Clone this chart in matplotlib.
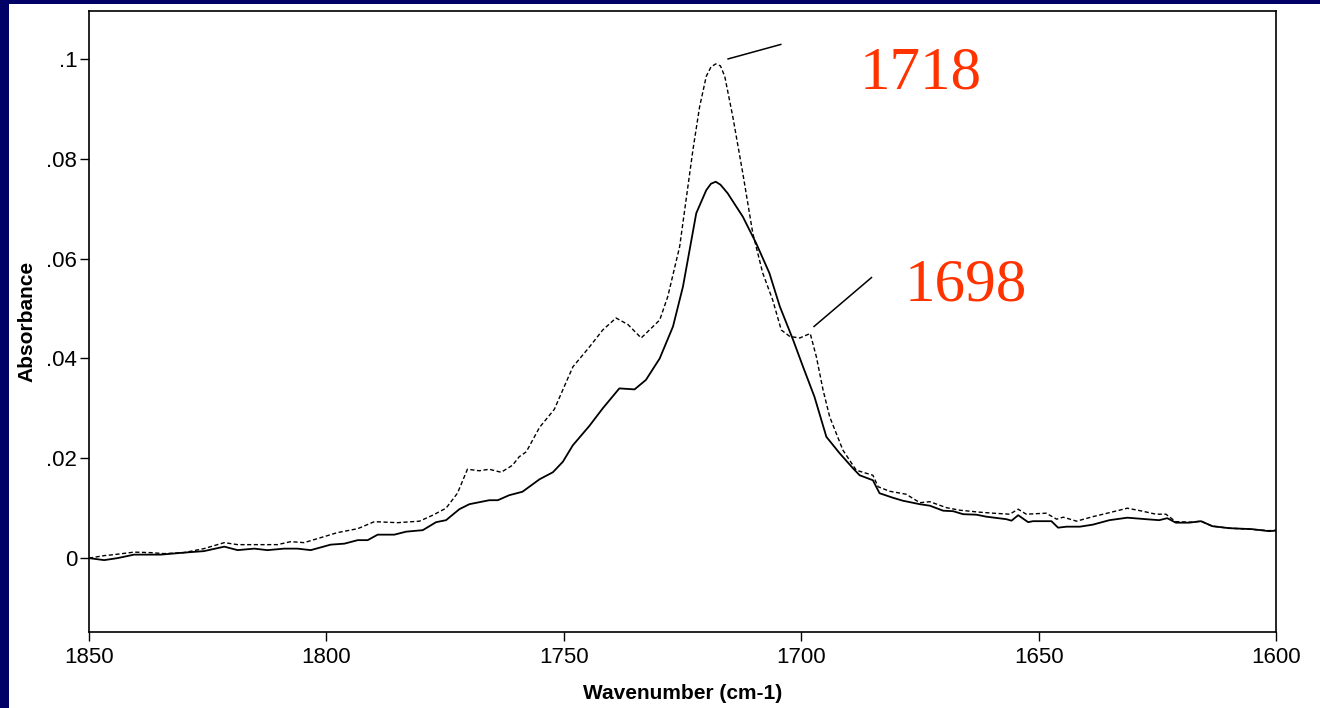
import matplotlib
matplotlib.use("Agg")
import matplotlib.pyplot as plt
from matplotlib.patches import Rectangle

# wavenumber (cm-1) and absorbance
wn_solid = [1850, 1846.8, 1844, 1840.5, 1834.9, 1830, 1825.8, 1821.5, 1818.7, 1815.2,
            1812.4, 1808.9, 1806.1, 1803.3, 1799.1, 1796.2, 1793.4, 1791.3, 1789.2, 1785.7,
            1783.2, 1779.7, 1776.9, 1774.8, 1772, 1769.9, 1765.7, 1763.9, 1761.5, 1758.7,
            1755.1, 1752.3, 1750.2, 1748.1, 1744.6, 1741.8, 1738.3, 1735.1, 1732.7, 1729.8,
            1727, 1724.9, 1722.1, 1720, 1719, 1718, 1717, 1715.5, 1712.3, 1709.5, 1706.7, 1704.5,
            1701.7, 1699.6, 1697.2, 1694.7, 1691.9, 1689.1, 1687.7, 1684.9, 1683.5, 1680.7,
            1678.6, 1675, 1672.9, 1670.1, 1668, 1665.9, 1663.1, 1661, 1656.8, 1655.7,
            1654.3, 1652.2, 1651.2, 1647.3, 1645.9, 1644.1, 1641.3, 1638.6, 1635.1, 1631.3,
            1627.4, 1624.6, 1622.9, 1621.1, 1618.3, 1615.8, 1613.4, 1609.9, 1605, 1601.5, 1600]
abs_solid = [0.0, -0.0004, 0.0, 0.0007, 0.0007, 0.0011, 0.0014, 0.0023, 0.0016, 0.0019,
             0.0016, 0.0019, 0.0019, 0.0016, 0.0027, 0.0029, 0.0036, 0.0036, 0.0047, 0.0047,
             0.0053, 0.0056, 0.0072, 0.0076, 0.0098, 0.0108, 0.0116, 0.0116, 0.0126, 0.0133,
             0.0158, 0.0172, 0.0193, 0.0226, 0.0265, 0.0300, 0.0340, 0.0338, 0.0357, 0.0400,
             0.0464, 0.0544, 0.0691, 0.0737, 0.0750, 0.0754, 0.0748, 0.0731, 0.0684, 0.0631, 0.0571, 0.0504,
             0.0437, 0.0383, 0.0323, 0.0243, 0.0210, 0.0180, 0.0166, 0.0156, 0.0130, 0.0121,
             0.0115, 0.0108, 0.0105, 0.0095, 0.0094, 0.0088, 0.0087, 0.0083, 0.0078, 0.0075,
             0.0086, 0.0072, 0.0074, 0.0074, 0.0061, 0.0063, 0.0063, 0.0067, 0.0076, 0.0081,
             0.0078, 0.0076, 0.0080, 0.0071, 0.0071, 0.0074, 0.0064, 0.0060, 0.0058, 0.0054, 0.0055]

wn_dash = [1850, 1846.8, 1844.7, 1840.5, 1837, 1834.2, 1830, 1825.8, 1821.5, 1818.7,
           1813.1, 1810.3, 1807.5, 1804.7, 1801.9, 1797.7, 1793.4, 1789.9, 1785, 1780.4,
           1777.6, 1774.8, 1772.4, 1770.3, 1767.8, 1765.7, 1763.2, 1760.8, 1759.4, 1757.9,
           1755.1, 1752, 1748.1, 1744.6, 1741.8, 1739, 1736.5, 1733.7, 1729.8, 1728.1,
           1725.6, 1722.8, 1721.4, 1720, 1719, 1718, 1717, 1716.1, 1714.4, 1712.3, 1710.2, 1708.1,
           1706, 1704.2, 1702.4, 1700.3, 1698.1, 1696.8, 1695.4, 1694, 1691.2, 1688.4,
           1684.9, 1683.8, 1681.4, 1677.9, 1675, 1672.9, 1669.4, 1666.6, 1662.4, 1659.6,
           1656.1, 1654.3, 1652.6, 1648.4, 1646.2, 1644.8, 1642, 1638.6, 1635.1, 1631.3,
           1628.1, 1625.3, 1623.2, 1621.1, 1617.6, 1615.8, 1613.4, 1609.9, 1605.7, 1601.5, 1600]
abs_dash = [0.0, 0.0005, 0.0007, 0.0012, 0.0011, 0.0009, 0.0011, 0.0019, 0.0031, 0.0027,
            0.0027, 0.0027, 0.0033, 0.0031, 0.0039, 0.0051, 0.0059, 0.0073, 0.0071, 0.0074,
            0.0086, 0.0100, 0.0130, 0.0178, 0.0175, 0.0178, 0.0172, 0.0186, 0.0203, 0.0213,
            0.0262, 0.0298, 0.0383, 0.0423, 0.0457, 0.0481, 0.0468, 0.0441, 0.0477, 0.0524,
            0.0624, 0.0818, 0.0904, 0.0965, 0.0984, 0.0990, 0.0986, 0.0965, 0.0884, 0.0771, 0.0651, 0.0571,
            0.0517, 0.0457, 0.0444, 0.0441, 0.0450, 0.0403, 0.0337, 0.0283, 0.0216, 0.0176,
            0.0166, 0.0143, 0.0134, 0.0128, 0.0111, 0.0113, 0.0101, 0.0096, 0.0092, 0.0090,
            0.0088, 0.0098, 0.0088, 0.0090, 0.0078, 0.0082, 0.0074, 0.0083, 0.0091, 0.0100,
            0.0094, 0.0088, 0.0088, 0.0073, 0.0072, 0.0074, 0.0064, 0.0060, 0.0058, 0.0055, 0.0056]

x_ticks = [1850, 1800, 1750, 1700, 1650, 1600]
y_ticks = [0, 0.02, 0.04, 0.06, 0.08, 0.1]
y_tick_labels = ["0", ".02", ".04", ".06", ".08", ".1"]

# peak labels: text, line start (x, y), line end (x, y)
peak_labels = ["1718", "1698"]
peak_line_start = [(1715.4, 0.1000), (1697.3, 0.0464)]
peak_line_end = [(1704.3, 0.1029), (1685.2, 0.0562)]
peak_text_pos = [(1687.7, 0.0940), (1678.2, 0.0517)]

plt.rcParams["font.family"] = ["Liberation Sans", "DejaVu Sans"]

fig = plt.figure(figsize=(13.2, 7.08), dpi=100, facecolor="#000066")
fig.patches.append(Rectangle((9 / 1320, 0), 1, 1 - 4 / 708, transform=fig.transFigure,
                             facecolor="white", edgecolor="none", zorder=-10))

ax = fig.add_axes([89 / 1320, 1 - 632 / 708, (1276 - 89) / 1320, (632 - 11) / 708])
ax.plot(wn_solid, abs_solid, color="black", lw=1.3)
ax.plot(wn_dash, abs_dash, color="black", lw=1.0, dashes=(3, 1.8))

for lab, p0, p1, pt in zip(peak_labels, peak_line_start, peak_line_end, peak_text_pos):
    ax.plot([p0[0], p1[0]], [p0[1], p1[1]], color="black", lw=1.1)
    ax.text(pt[0], pt[1], lab, color="#FF3300", fontsize=44,
            family=["Liberation Serif"], ha="left", va="baseline")

ax.set_xlim(1850, 1600)
ax.set_ylim(-0.0148, 0.1096)
ax.set_xticks(x_ticks)
ax.set_yticks(y_ticks)
ax.set_yticklabels(y_tick_labels)
ax.tick_params(direction="out", length=6.5, width=1, labelsize=16)
ax.tick_params(axis="x", pad=4)
ax.tick_params(axis="y", pad=2)
for s in ax.spines.values():
    s.set_linewidth(1.2)

ax.set_xlabel("Wavenumber (cm-1)", fontsize=15, fontweight="bold", labelpad=12)
ax.set_ylabel("Absorbance", fontsize=15, fontweight="bold", labelpad=7)

fig.savefig("out.png", dpi=100, facecolor=fig.get_facecolor())
